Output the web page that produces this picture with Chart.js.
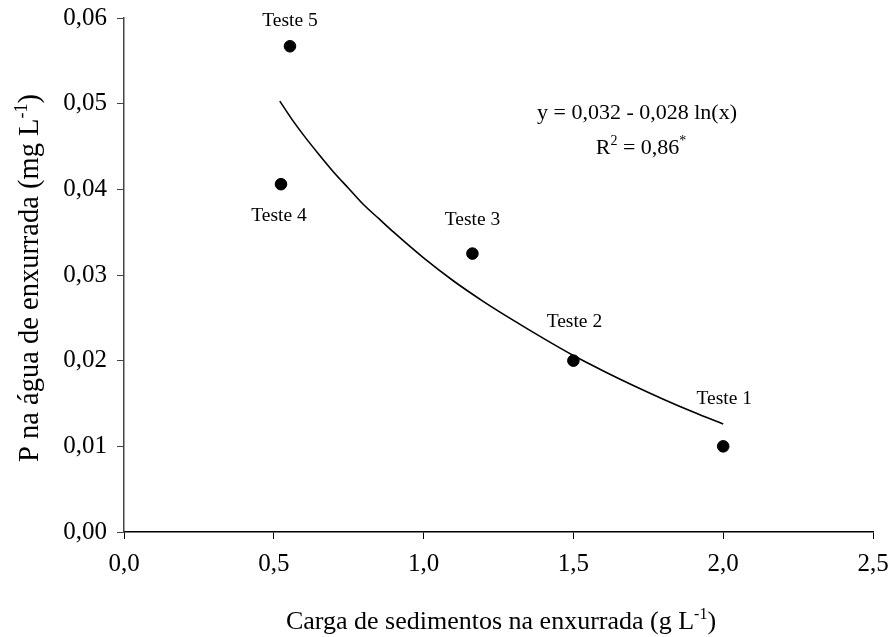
<!DOCTYPE html>
<html><head><meta charset="utf-8">
<script src="https://cdn.jsdelivr.net/npm/chart.js@4/dist/chart.umd.min.js"></script>
<style>html,body{margin:0;padding:0;background:#fff}#w{width:890px;height:637px}</style>
</head><body><div id="w"><canvas id="c"></canvas></div>
<script>
const pointNames = ["Teste 1","Teste 2","Teste 3","Teste 4","Teste 5"];
const pointX = [2.0, 1.5, 1.163, 0.524, 0.554];
const pointY = [0.0100, 0.0200, 0.0325, 0.0406, 0.0567];
const curveX = [0.52,0.56,0.6,0.65,0.7,0.75,0.8,0.85,0.9,1.0,1.1,1.2,1.3,1.4,1.5,1.6,1.7,1.8,1.9,2.0];
const curveY = [0.0503,0.0482,0.0463,0.0441,0.0420,0.0401,0.0382,0.0366,0.0350,0.0320,0.0293,0.0269,0.0247,0.0226,0.0206,0.0188,0.0171,0.0155,0.0140,0.0126];
const xTicks = [0,0.5,1.0,1.5,2.0,2.5];
const yTicks = [0,0.01,0.02,0.03,0.04,0.05,0.06];
const eqLine1 = [["y = 0,032 - 0,028 ln(x)",0]];
const eqLine2 = [["R",0],["2",1],[" = 0,86",0],["*",1]];
const yTitle = [["P na água de enxurrada (mg L",0],["-1",1],[")",0]];
const xTitle = [["Carga de sedimentos na enxurrada (g L",0],["-1",1],[")",0]];

const labelOffsets = [[1,-47],[1,-39],[0,-34],[-2,32],[0,-25]];
const FONT = '"Liberation Serif","Times New Roman",serif';

function drawRich(ctx, parts, size, cx, cy, rot){
  const sup = Math.round(size*0.62);
  const widths = parts.map(p=>{ ctx.font=(p[1]?sup:size)+'px '+FONT; return ctx.measureText(p[0]).width; });
  const total = widths.reduce((a,b)=>a+b,0);
  ctx.save(); ctx.translate(cx,cy); if(rot) ctx.rotate(rot);
  ctx.textAlign='left'; ctx.textBaseline='alphabetic';
  let x = -total/2;
  parts.forEach((p,i)=>{
    ctx.font=(p[1]?sup:size)+'px '+FONT;
    ctx.fillText(p[0], x, p[1]? -size*0.4 : 0);
    x += widths[i];
  });
  ctx.restore();
}

const annot = {
  id:'annot',
  afterDraw(chart){
    const ctx = chart.ctx, xs = chart.scales.x, ys = chart.scales.y;
    ctx.save(); ctx.fillStyle='#000';
    ctx.font = '19.5px '+FONT; ctx.textAlign='center'; ctx.textBaseline='middle';
    pointNames.forEach((n,i)=>{
      ctx.fillText(n, xs.getPixelForValue(pointX[i])+labelOffsets[i][0], ys.getPixelForValue(pointY[i])+labelOffsets[i][1]);
    });
    drawRich(ctx, eqLine1, 22, 637, 119, 0);
    drawRich(ctx, eqLine2, 22, 641, 154, 0);
    drawRich(ctx, xTitle, 26, 501, 629, 0);
    drawRich(ctx, yTitle, 28.5, 38, 278, -Math.PI/2);
    ctx.restore();
  }
};

new Chart(document.getElementById('c'), {
  type:'scatter',
  data:{datasets:[
    {data: curveX.map((x,i)=>({x, y:curveY[i]})), showLine:true, borderColor:'#000', borderWidth:1.6, pointRadius:0, cubicInterpolationMode:'monotone', fill:false},
    {data: pointX.map((x,i)=>({x, y:pointY[i]})), backgroundColor:'#000', borderColor:'#000', pointRadius:5.8, pointHoverRadius:5.8}
  ]},
  options:{
    responsive:true, maintainAspectRatio:false, animation:false,
    layout:{padding:{left:0,right:17,top:18,bottom:0}},
    plugins:{legend:{display:false}, tooltip:{enabled:false}},
    scales:{
      x:{type:'linear', min:0, max:2.5,
        afterBuildTicks(s){ s.ticks = xTicks.map(v=>({value:v})); },
        afterFit(s){ s.height = 105; s.paddingLeft = 0; s.paddingRight = 0; },
        ticks:{color:'#000', font:{family:FONT,size:25}, padding:10, maxRotation:0, callback:v=>v.toFixed(1).replace('.',',')},
        grid:{drawOnChartArea:false, drawTicks:true, tickLength:7, color:'#000'},
        border:{color:'#000', width:1.5}
      },
      y:{type:'linear', min:0, max:0.06,
        afterBuildTicks(s){ s.ticks = yTicks.map(v=>({value:v})); },
        afterFit(s){ s.width = 124; s.paddingTop = 0; s.paddingBottom = 0; },
        ticks:{color:'#000', font:{family:FONT,size:25}, padding:10, callback:v=>v.toFixed(2).replace('.',',')},
        grid:{drawOnChartArea:false, drawTicks:true, tickLength:7, color:'#444'},
        border:{color:'#444', width:1.5}
      }
    }
  },
  plugins:[annot]
});
</script></body></html>
